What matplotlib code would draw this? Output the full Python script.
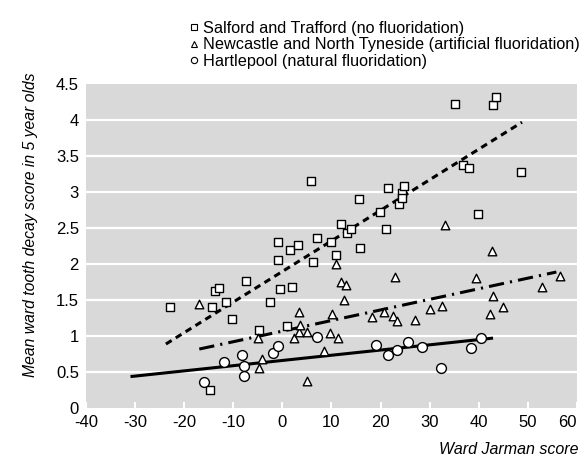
import matplotlib.pyplot as plt
from matplotlib.lines import Line2D
from matplotlib.ticker import FuncFormatter

plt.rcParams['font.family'] = ['Liberation Sans Narrow', 'Liberation Sans', 'DejaVu Sans']
plt.rcParams['axes.unicode_minus'] = False

# Salford and Trafford (no fluoridation)
salford_x = [-22.8, -14.7, -14.4, -13.7, -12.8, -11.5, -10.2, -7.4, -4.8, -2.5,
             -0.8, -0.8, -0.4, 1.0, 1.6, 1.9, 3.2, 5.8, 6.3, 7.1,
             10.0, 10.9, 12.0, 13.1, 13.9, 15.7, 15.9, 19.9, 21.1, 21.6,
             23.8, 24.3, 24.4, 24.8, 35.1, 36.8, 38.0, 39.9, 43.0, 43.5, 48.6]
salford_y = [1.40, 0.25, 1.40, 1.62, 1.67, 1.48, 1.24, 1.76, 1.09, 1.48,
             2.06, 2.30, 1.65, 1.14, 2.19, 1.68, 2.27, 3.15, 2.03, 2.36,
             2.31, 2.13, 2.56, 2.43, 2.49, 2.90, 2.22, 2.72, 2.49, 3.06,
             2.83, 2.99, 2.92, 3.09, 4.23, 3.37, 3.33, 2.70, 4.21, 4.32, 3.28]

# Newcastle and North Tyneside (artificial fluoridation)
newcastle_x = [-17.0, -5.0, -4.8, -4.2, 2.4, 3.4, 3.5, 3.7, 5.0, 5.1,
               8.4, 9.8, 10.1, 11.0, 11.3, 11.9, 12.5, 13.0, 18.3, 20.7,
               22.6, 23.0, 23.3, 27.1, 30.1, 32.6, 33.1, 39.4, 42.3, 42.7,
               43.0, 44.9, 52.8, 56.5]
newcastle_y = [1.44, 0.98, 0.56, 0.68, 0.98, 1.05, 1.34, 1.15, 0.37, 1.06,
               0.79, 1.04, 1.31, 2.00, 0.98, 1.75, 1.50, 1.71, 1.26, 1.33,
               1.28, 1.82, 1.21, 1.22, 1.38, 1.42, 2.54, 1.81, 1.30, 2.18,
               1.55, 1.41, 1.68, 1.84]

# Hartlepool (natural fluoridation)
hartlepool_x = [-15.9, -11.9, -8.2, -7.7, -7.7, -1.9, -0.8, 7.1, 19.1, 21.5,
                23.4, 25.5, 28.4, 32.4, 38.5, 40.5]
hartlepool_y = [0.36, 0.64, 0.74, 0.59, 0.44, 0.77, 0.86, 0.99, 0.87, 0.74,
                0.80, 0.92, 0.85, 0.56, 0.84, 0.97]

# regression lines (end points)
salford_fit_x = [-23.7, 48.8]
salford_fit_y = [0.89, 3.97]
newcastle_fit_x = [-16.9, 55.8]
newcastle_fit_y = [0.82, 1.89]
hartlepool_fit_x = [-30.6, 42.6]
hartlepool_fit_y = [0.44, 0.97]

labels = ["Salford and Trafford (no fluoridation)",
          "Newcastle and North Tyneside (artificial fluoridation)",
          "Hartlepool (natural fluoridation)"]

fig = plt.figure(figsize=(5.84, 4.57), dpi=100)
ax = fig.add_axes([0.147, 0.107, 0.841, 0.709])
ax.set_facecolor('#d9d9d9')
for s in ax.spines.values():
    s.set_visible(False)

for yv in [0.5, 1, 1.5, 2, 2.5, 3, 3.5, 4]:
    ax.axhline(yv, color='white', lw=1.6, zorder=1)

ax.plot(salford_fit_x, salford_fit_y, color='black', lw=2.2, dashes=(2.2, 1.6), zorder=2)
ax.plot(newcastle_fit_x, newcastle_fit_y, color='black', lw=2.2, dashes=(5, 2, 0.7, 2), zorder=2)
ax.plot(hartlepool_fit_x, hartlepool_fit_y, color='black', lw=2.2, zorder=2)

ax.scatter(salford_x, salford_y, marker='s', s=34, facecolor='white', edgecolor='black', linewidth=1.0, zorder=3)
ax.scatter(newcastle_x, newcastle_y, marker='^', s=38, facecolor='white', edgecolor='black', linewidth=1.0, zorder=3)
ax.scatter(hartlepool_x, hartlepool_y, marker='o', s=50, facecolor='white', edgecolor='black', linewidth=1.0, zorder=3)

ax.set_xlim(-40, 60)
ax.set_ylim(0, 4.5)
ax.set_xticks(range(-40, 61, 10))
ax.set_yticks([0, 0.5, 1, 1.5, 2, 2.5, 3, 3.5, 4, 4.5])
ax.yaxis.set_major_formatter(FuncFormatter(lambda v, p: f"{v:g}"))
ax.tick_params(axis='x', direction='in', color='white', width=1.5, length=4, labelsize=12, pad=5)
ax.tick_params(axis='y', length=0, labelsize=12, pad=5)
ax.get_xticklabels()[-1].set_horizontalalignment('right')

ax.set_ylabel("Mean ward tooth decay score in 5 year olds", style='italic', fontsize=11.3)
ax.yaxis.set_label_coords(-0.098, 0.565)
fig.text(0.99, 0.0175, "Ward Jarman score", style='italic', fontsize=11.5, ha='right', va='center')

handles = [
    Line2D([], [], ls='none', marker='s', ms=4.5, mfc='white', mec='black', mew=0.8),
    Line2D([], [], ls='none', marker='^', ms=4.5, mfc='white', mec='black', mew=0.8),
    Line2D([], [], ls='none', marker='o', ms=4.5, mfc='white', mec='black', mew=0.8),
]
fig.legend(handles, labels, loc='upper left', bbox_to_anchor=(0.325, 0.955), frameon=False,
           fontsize=11.7, handlelength=0.5, handletextpad=0.3, labelspacing=0.1, borderpad=0,
           borderaxespad=0)

fig.savefig("out.png", dpi=100)
